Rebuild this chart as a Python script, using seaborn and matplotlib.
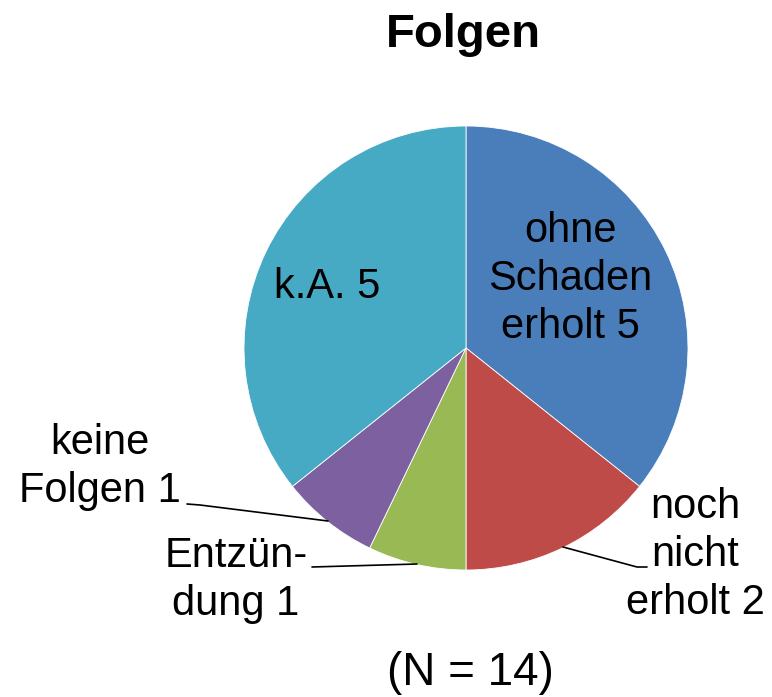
import matplotlib
matplotlib.use("Agg")
import matplotlib.pyplot as plt
import seaborn as sns

categories = ["ohne Schaden erholt", "noch nicht erholt", "Entzündung", "keine Folgen", "k.A."]
values = [5, 2, 1, 1, 5]
label_texts = ["ohne\nSchaden\nerholt 5", "noch\nnicht\nerholt 2", "Entzün-\ndung 1", "keine\nFolgen 1", "k.A. 5"]
colors = ["#4A7EBB", "#BE4B48", "#98B954", "#7D60A0", "#46AAC5"]
title = "Folgen"
note = "(N = 14)"

sns.set_style("white")
plt.rcParams['font.family'] = ['Liberation Sans', 'DejaVu Sans']

W, H = 772, 697
fig = plt.figure(figsize=(W / 100, H / 100), dpi=100)
ax = fig.add_axes([0, 0, 1, 1])
ax.set_xlim(0, W)
ax.set_ylim(0, H)
ax.set_aspect('equal')
ax.axis('off')

def Y(y):
    return H - y

palette = sns.color_palette(colors)
ax.pie(values, colors=palette, startangle=90, counterclock=False,
       center=(466, Y(348)), radius=222, frame=True,
       wedgeprops=dict(linewidth=0.6, edgecolor='white'))
ax.set_xlim(0, W)
ax.set_ylim(0, H)
ax.axis('off')

fs = 30
ls = 1.27
pos = [(570, 279, 'center'), (695, 555, 'center'), (236, 580, 'center'),
       (100, 467, 'center'), (327, 287, 'center')]
for t, (x, y, ha) in zip(label_texts, pos):
    ax.text(x, Y(y), t, ha=ha, va='center', fontsize=fs, linespacing=ls, color='black')

# leader lines
lines = [
    [(187, 504), (200, 505), (328, 521)],
    [(312, 567), (417, 564)],
    [(563, 547), (637, 567), (647, 567)],
]
for ln in lines:
    xs = [p[0] for p in ln]
    ys = [Y(p[1]) for p in ln]
    ax.plot(xs, ys, color='black', lw=1.2)

ax.text(463, Y(35), title, ha='center', va='center', fontsize=34, fontweight='bold', color='black')
ax.text(470, Y(673), note, ha='center', va='center', fontsize=33, color='black')

fig.savefig("out.png", dpi=100)
